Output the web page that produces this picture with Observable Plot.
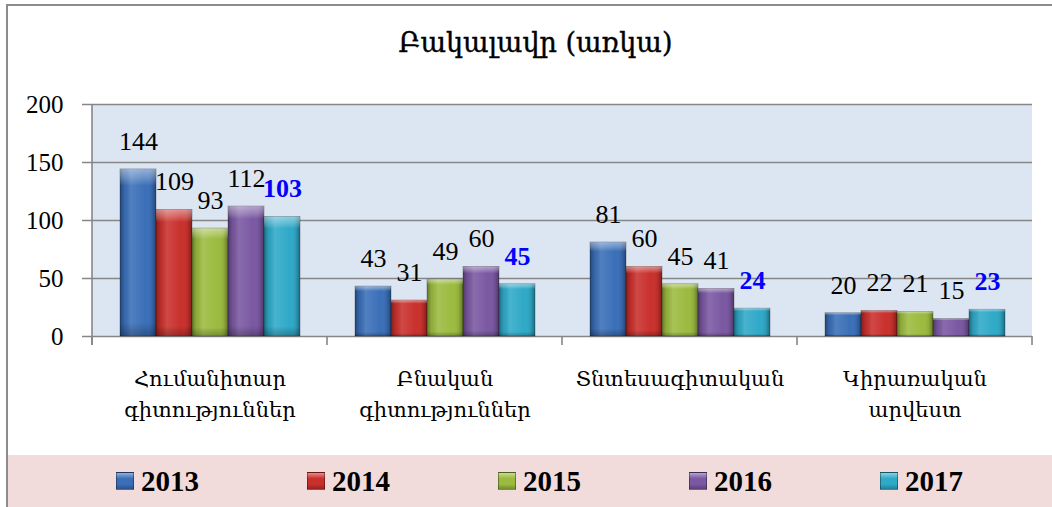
<!DOCTYPE html>
<html><head><meta charset="utf-8">
<script src="https://cdn.jsdelivr.net/npm/d3@7"></script>
<script src="https://cdn.jsdelivr.net/npm/@observablehq/plot@0.6"></script>
<style>
html,body{margin:0;padding:0;background:#fff;}
#wrap{position:relative;width:1052px;height:507px;overflow:hidden;}
#border{position:absolute;left:6px;top:4px;width:1060px;height:520px;border-left:2px solid #8c8c8c;border-top:2px solid #8c8c8c;}
#title{position:absolute;top:27px;left:0;width:1071px;text-align:center;font-family:"DejaVu Serif",serif;font-size:27px;color:#000;-webkit-text-stroke:0.4px #000;}
#plotbg{position:absolute;background:#dce6f2;}
#chart{position:absolute;left:0;top:90px;}
#legend{position:absolute;left:8px;top:455px;width:1044px;height:52px;background:#f2dcdb;}
.item{position:absolute;top:0;height:52px;display:flex;align-items:center;}
.sw{width:18px;height:18px;margin-right:7px;box-sizing:border-box;}
.lt{font-family:"Liberation Serif",serif;font-weight:bold;font-size:29px;color:#000;}
</style></head>
<body><div id="wrap"><div id="border"></div><div id="title">Բակալավր (առկա)</div><div id="plotbg"></div><div id="chart"></div><div id="legend"></div></div>
<script>
const categories = ["Հումանիտար գիտություններ","Բնական գիտություններ","Տնտեսագիտական","Կիրառական արվեստ"];
const categoryLabels = ["Հումանիտար\nգիտություններ","Բնական\nգիտություններ","Տնտեսագիտական","Կիրառական\nարվեստ"];
const years = ["2013","2014","2015","2016","2017"];
const colors = ["#3a6fb8","#c9302c","#9bbb3f","#7a58a2","#2fa9c8"];
const v2013 = [144,43,81,20];
const v2014 = [109,31,60,22];
const v2015 = [93,49,45,21];
const v2016 = [112,60,41,15];
const v2017 = [103,45,24,23];
const yTicks = [0,50,100,150,200];

const series = [v2013,v2014,v2015,v2016,v2017];
const data = [];
categories.forEach((c,i)=>years.forEach((y,j)=>data.push({category:c, year:y, value:series[j][i]})));
const labelOf = new Map(categories.map((c,i)=>[c,categoryLabels[i]]));
const last = years[years.length-1];

const chart = Plot.plot({
  width:1052, height:365,
  marginTop:14, marginBottom:119, marginLeft:91, marginRight:19,
  style:{background:"transparent", overflow:"visible"},
  fx:{domain:categories, padding:0, label:null},
  x:{domain:years, paddingInner:0, paddingOuter:0.725, axis:null},
  y:{domain:[0,200], label:null},
  color:{domain:years, range:colors},
  marks:[
    Plot.ruleY(yTicks, {stroke:"#868686", strokeWidth:1.6}),
    Plot.barY(data, {fx:"category", x:"year", y:"value", fill:"year", stroke:"#00000055", strokeWidth:0.8}),
    Plot.barY(data, {fx:"category", x:"year", y:"value", fill:"url(#shadeH)"}),
    Plot.barY(data, {fx:"category", x:"year", y:"value", fill:"url(#shadeV)"}),
    Plot.text(data.filter(d=>d.year!==last), {fx:"category", x:"year", y:"value", text:d=>String(d.value), dy:-28, lineAnchor:"middle", fontSize:26, fontFamily:"Liberation Serif", fill:"#000"}),
    Plot.text(data.filter(d=>d.year===last), {fx:"category", x:"year", y:"value", text:d=>String(d.value), dy:-28, lineAnchor:"middle", fontSize:26, fontWeight:"bold", fontFamily:"Liberation Serif", fill:"#0000ff"}),
    Plot.axisY({ticks:yTicks, tickSize:10, tickPadding:19, fontSize:25, fontFamily:"Liberation Serif", stroke:"#868686", strokeWidth:1.5, color:"#000", label:null}),
    Plot.axisFx({anchor:"bottom", tickSize:0, tickPadding:28, fontSize:21, lineHeight:1.45, fontFamily:"DejaVu Serif", tickFormat:d=>labelOf.get(d), label:null})
  ]
});
document.getElementById("chart").appendChild(chart);

const svg = d3.select(chart);
const defs = svg.insert("defs", ":first-child");
const gh = defs.append("linearGradient").attr("id","shadeH").attr("x1",0).attr("x2",1).attr("y1",0).attr("y2",0);
[[0,"#000",0.35],[0.12,"#000",0.08],[0.3,"#fff",0.12],[0.7,"#fff",0.0],[0.88,"#000",0.08],[1,"#000",0.35]].forEach(([o,c,a])=>gh.append("stop").attr("offset",o).attr("stop-color",c).attr("stop-opacity",a));
const gv = defs.append("linearGradient").attr("id","shadeV").attr("x1",0).attr("x2",0).attr("y1",0).attr("y2",1);
[[0,"#fff",0.45],[0.06,"#fff",0.2],[0.1,"#fff",0],[0.92,"#000",0],[1,"#000",0.25]].forEach(([o,c,a])=>gv.append("stop").attr("offset",o).attr("stop-color",c).attr("stop-opacity",a));

// plot-area background, axis line and category boundary ticks from the scales
const fx = chart.scale("fx"), y = chart.scale("y");
const x0 = fx.apply(categories[0]);
const x1 = fx.apply(categories[categories.length-1]) + fx.bandwidth;
const y0 = y.apply(0), yTop = y.apply(yTicks[yTicks.length-1]);
d3.select("#plotbg").style("left",x0+"px").style("top",(90+yTop)+"px").style("width",(x1-x0)+"px").style("height",(y0-yTop)+"px");
const bounds = categories.map(c=>fx.apply(c)).concat([x1]);
svg.append("line").attr("x1",x0).attr("x2",x0).attr("y1",yTop).attr("y2",y0+9).attr("stroke","#868686").attr("stroke-width",1.6);
bounds.forEach(b=>svg.append("line").attr("x1",b).attr("x2",b).attr("y1",y0).attr("y2",y0+9).attr("stroke","#868686").attr("stroke-width",1.6));

// legend
const legend = d3.select("#legend");
years.forEach((yr,i)=>{
  const it = legend.append("div").attr("class","item").style("left",(108+i*191)+"px");
  it.append("div").attr("class","sw").style("background",`linear-gradient(180deg, rgba(255,255,255,0.45) 0%, rgba(255,255,255,0) 35%, rgba(0,0,0,0) 70%, rgba(0,0,0,0.25) 100%), ${colors[i]}`).style("border","1px solid rgba(0,0,0,0.35)");
  it.append("div").attr("class","lt").text(yr);
});
</script></body></html>
